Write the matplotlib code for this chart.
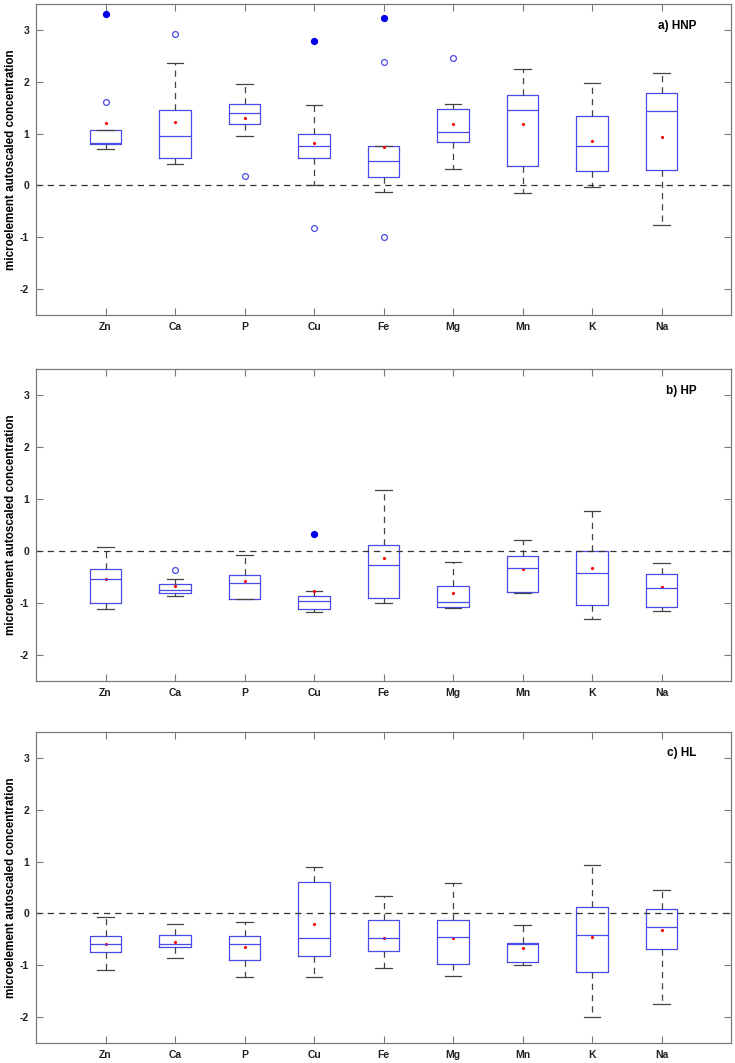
import matplotlib
matplotlib.use('Agg')
import matplotlib.pyplot as plt
import numpy as np

plt.rcParams['font.family'] = ['Liberation Sans', 'DejaVu Sans']
plt.rcParams['font.weight'] = 'bold'
plt.rcParams['axes.unicode_minus'] = False

elements = ['Zn', 'Ca', 'P', 'Cu', 'Fe', 'Mg', 'Mn', 'K', 'Na']
titles = ['a) HNP', 'b) HP', 'c) HL']

# per panel: lower whisker, q1, median, q3, upper whisker, mean
whislo = [
    [0.71, 0.41, 0.96, 0.00, -0.13, 0.31, -0.15, -0.03, -0.77],
    [-1.11, -0.86, -0.93, -1.17, -1.00, -1.09, -0.81, -1.31, -1.16],
    [-1.08, -0.86, -1.23, -1.22, -1.05, -1.20, -1.00, -2.00, -1.75],
]
q1 = [
    [0.79, 0.53, 1.19, 0.53, 0.17, 0.83, 0.37, 0.27, 0.30],
    [-1.00, -0.81, -0.93, -1.11, -0.91, -1.08, -0.79, -1.04, -1.08],
    [-0.75, -0.65, -0.90, -0.81, -0.72, -0.97, -0.94, -1.13, -0.69],
]
medians = [
    [0.82, 0.96, 1.39, 0.76, 0.47, 1.04, 1.45, 0.77, 1.43],
    [-0.53, -0.75, -0.61, -0.97, -0.27, -0.99, -0.32, -0.42, -0.71],
    [-0.58, -0.59, -0.58, -0.48, -0.48, -0.45, -0.58, -0.42, -0.27],
]
q3 = [
    [1.07, 1.45, 1.58, 0.99, 0.77, 1.47, 1.74, 1.34, 1.79],
    [-0.35, -0.64, -0.46, -0.86, 0.11, -0.68, -0.10, 0.00, -0.44],
    [-0.43, -0.41, -0.44, 0.61, -0.12, -0.12, -0.56, 0.12, 0.08],
]
whishi = [
    [1.07, 2.37, 1.95, 1.55, 0.77, 1.58, 2.24, 1.98, 2.17],
    [0.08, -0.54, -0.08, -0.77, 1.17, -0.21, 0.22, 0.77, -0.24],
    [-0.06, -0.21, -0.17, 0.90, 0.33, 0.58, -0.22, 0.94, 0.46],
]
means = [
    [1.20, 1.22, 1.31, 0.81, 0.75, 1.19, 1.18, 0.86, 0.93],
    [-0.54, -0.67, -0.58, -0.77, -0.14, -0.80, -0.35, -0.33, -0.70],
    [-0.58, -0.54, -0.65, -0.21, -0.47, -0.47, -0.67, -0.45, -0.32],
]
# open-circle outliers and filled (extreme) outliers, by element index
open_out = [
    {0: [1.61], 1: [2.92], 2: [0.18], 3: [-0.83], 4: [2.38, -0.99], 5: [2.46]},
    {1: [-0.37]},
    {},
]
filled_out = [
    {0: [3.31], 3: [2.78], 4: [3.23]},
    {3: [0.32]},
    {},
]

boxcol = '#4a4ae6'
axcol = '#7a7a7a'
fig = plt.figure(figsize=(7.35, 10.63), dpi=100)
rects = [[0.049, 0.7037, 0.9456, 0.2925],
         [0.049, 0.3595, 0.9456, 0.2931],
         [0.049, 0.0185, 0.9456, 0.2932]]

pos = np.arange(1, len(elements) + 1)
for p in range(3):
    ax = fig.add_axes(rects[p])
    stats = []
    for i in range(len(elements)):
        stats.append({'whislo': whislo[p][i], 'q1': q1[p][i], 'med': medians[p][i],
                      'q3': q3[p][i], 'whishi': whishi[p][i],
                      'fliers': open_out[p].get(i, [])})
    ax.bxp(stats, positions=pos, widths=0.45, showfliers=True,
           boxprops=dict(color=boxcol, linewidth=0.9),
           medianprops=dict(color=boxcol, linewidth=0.9),
           whiskerprops=dict(color='#444444', linestyle=(0, (5, 4)), linewidth=0.9),
           capprops=dict(color='#444444', linewidth=0.9),
           flierprops=dict(marker='o', markerfacecolor='none', markeredgecolor=boxcol,
                           markersize=4.2, markeredgewidth=0.9),
           capwidths=0.24)
    for i, vals in filled_out[p].items():
        ax.plot([pos[i]] * len(vals), vals, 'o', color='#0000ee', markersize=4.2)
    ax.plot(pos, means[p], '.', color='red', markersize=2.5)
    ax.axhline(0, color='#333333', linestyle=(0, (5, 4)), linewidth=0.9)

    ax.set_xlim(0, 10)
    ax.set_ylim(-2.5, 3.5)
    ax.set_yticks([-2, -1, 0, 1, 2, 3])
    ax.set_xticks(pos)
    ax.set_xticklabels(elements)
    ax.tick_params(direction='in', top=True, right=True, length=5, width=0.8,
                   color=axcol, labelsize=7.5, labelcolor='#222222', pad=5)
    for s in ax.spines.values():
        s.set_color(axcol)
        s.set_linewidth(0.9)
    for lab in ax.get_xticklabels() + ax.get_yticklabels():
        lab.set_fontweight('bold')
    ax.set_ylabel('microelement autoscaled concentration', fontsize=8.4,
                  fontweight='bold')
    ax.yaxis.set_label_coords(-0.027, 0.5)
    ax.text(0.95, 0.93, titles[p], transform=ax.transAxes, ha='right', va='center',
            fontsize=8.5, fontweight='bold')

fig.savefig('out.png', dpi=100)
